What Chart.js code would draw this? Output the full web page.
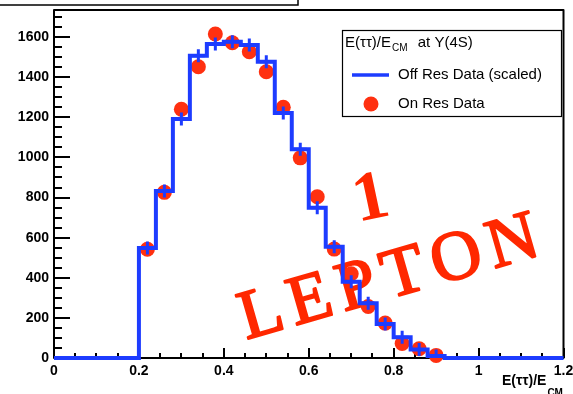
<!DOCTYPE html>
<html>
<head>
<meta charset="utf-8">
<script src="https://cdn.jsdelivr.net/npm/chart.js@4/dist/chart.umd.min.js"></script>
<style>
  html, body { margin: 0; padding: 0; background: #ffffff; overflow: hidden; }
  #c { display: block; }
</style>
</head>
<body>
<canvas id="c" width="573" height="394"></canvas>
<script>
// Bin edges of E(tautau)/E_CM histogram
const binEdges = [0.20, 0.24, 0.28, 0.32, 0.36, 0.40, 0.44, 0.48, 0.52, 0.56,
                  0.60, 0.64, 0.68, 0.72, 0.76, 0.80, 0.84, 0.88, 0.92];
// Off-resonance data, scaled (one value per bin)
const offResScaled = [548, 832, 1191, 1507, 1565, 1577, 1560, 1477, 1221, 1041,
                      749, 555, 380, 273, 170, 103, 43, 10];
// On-resonance data (one value per bin)
const onResData = [542, 826, 1240, 1452, 1615, 1572, 1527, 1427, 1250, 998,
                   804, 543, 420, 257, 174, 72, 46, 13];

const xTickValues = [0, 0.2, 0.4, 0.6, 0.8, 1, 1.2];
const xTickLabels = ['0', '0.2', '0.4', '0.6', '0.8', '1', '1.2'];
const yTickValues = [0, 200, 400, 600, 800, 1000, 1200, 1400, 1600];
const yTickLabels = ['0', '200', '400', '600', '800', '1000', '1200', '1400', '1600'];

const X_MIN = 0, X_MAX = 1.2, Y_MIN = 0, Y_MAX = 1735;

const BLUE = '#1d3cff';
const RED = '#ff3010';
const STAMP_RED = '#ff2800';
const SANS = '"Liberation Sans", Arial, Helvetica, sans-serif';
const SERIF = '"Liberation Serif", "Times New Roman", serif';

// Bin centres and step outline built from the edges
const binCenters = offResScaled.map((_, i) => (binEdges[i] + binEdges[i + 1]) / 2);
const stepPoints = [{ x: X_MIN, y: 0 }]
  .concat(offResScaled.map((v, i) => ({ x: binEdges[i], y: v })))
  .concat([{ x: binEdges[binEdges.length - 1], y: 0 }, { x: X_MAX, y: 0 }]);

// Frame, inward ROOT-style ticks and the "1 LEPTON" stamp (under the data)
const underlay = {
  id: 'underlay',
  beforeDatasetsDraw(chart) {
    const { ctx, chartArea: a, scales } = chart;
    const xs = scales.x, ys = scales.y;
    ctx.save();

    // stamp text
    ctx.fillStyle = STAMP_RED;
    ctx.strokeStyle = STAMP_RED;
    ctx.lineWidth = 2;
    ctx.lineJoin = 'round';
    ctx.font = '70px ' + SERIF;
    ctx.textBaseline = 'alphabetic';
    ctx.textAlign = 'left';
    const word = 'LEPTON';
    const gap = 8;
    const widths = [...word].map(ch => ctx.measureText(ch).width);
    const total = widths.reduce((s, w) => s + w, 0) + gap * (word.length - 1);
    ctx.save();
    ctx.translate(388, 275);
    ctx.rotate(-16 * Math.PI / 180);
    let px = -total / 2;
    [...word].forEach((ch, i) => {
      ctx.fillText(ch, px, 23);
      ctx.strokeText(ch, px, 23);
      px += widths[i] + gap;
    });
    ctx.restore();

    ctx.save();
    ctx.translate(370, 195);
    ctx.rotate(-12 * Math.PI / 180);
    ctx.textAlign = 'center';
    ctx.font = 'bold 70px ' + SERIF;
    ctx.fillText('1', 0, 24);
    ctx.restore();

    // frame
    ctx.strokeStyle = '#000';
    ctx.lineWidth = 2;
    ctx.strokeRect(a.left, a.top, a.right - a.left, a.bottom - a.top);

    // y ticks
    ctx.lineWidth = 2;
    ctx.beginPath();
    for (let v = Y_MIN; v <= Y_MAX; v += 50) {
      const y = Math.round(ys.getPixelForValue(v));
      const len = (v % 200 === 0) ? 16 : 8;
      ctx.moveTo(a.left, y);
      ctx.lineTo(a.left + len, y);
    }
    // x ticks
    for (let k = 0; k <= 24; k++) {
      const v = k * 0.05;
      const x = Math.round(xs.getPixelForValue(v));
      const len = (k % 4 === 0) ? 10 : 5;
      ctx.moveTo(x, a.bottom);
      ctx.lineTo(x, a.bottom - len);
    }
    ctx.stroke();
    ctx.restore();
  },
  afterDatasetsDraw(chart) {
    const { ctx } = chart;
    ctx.save();

    // title box at the top left
    ctx.strokeStyle = '#000';
    ctx.lineWidth = 1.5;
    ctx.fillStyle = '#fff';
    ctx.fillRect(-5, -30, 303, 35);
    ctx.strokeRect(-5, -30, 303, 35);

    // legend box
    ctx.fillStyle = '#fff';
    ctx.fillRect(342.5, 30.5, 219, 86);
    ctx.lineWidth = 1.2;
    ctx.strokeRect(342.5, 30.5, 219, 86);

    ctx.fillStyle = '#000';
    ctx.textBaseline = 'alphabetic';
    ctx.textAlign = 'left';
    let x = 345;
    ctx.font = '15px ' + SANS;
    ctx.fillText('E(ττ)/E', x, 47);
    x += ctx.measureText('E(ττ)/E').width;
    ctx.font = '10px ' + SANS;
    ctx.fillText('CM', x + 1, 51);
    x += ctx.measureText('CM').width + 1;
    ctx.font = '15px ' + SANS;
    ctx.fillText(' at Υ(4S)', x + 6, 47);

    ctx.strokeStyle = BLUE;
    ctx.lineWidth = 3.5;
    ctx.beginPath();
    ctx.moveTo(352, 75);
    ctx.lineTo(389, 75);
    ctx.stroke();
    ctx.fillStyle = RED;
    ctx.beginPath();
    ctx.arc(371, 104, 7.5, 0, Math.PI * 2);
    ctx.fill();

    ctx.fillStyle = '#000';
    ctx.font = '15px ' + SANS;
    ctx.textBaseline = 'middle';
    ctx.fillText('Off Res Data (scaled)', 398, 75);
    ctx.fillText('On Res Data', 398, 104);

    // x axis title
    ctx.textBaseline = 'alphabetic';
    ctx.font = 'bold 14px ' + SANS;
    ctx.fillText('E(ττ)/E', 502, 385);
    const w = ctx.measureText('E(ττ)/E').width;
    ctx.font = 'bold 10px ' + SANS;
    ctx.fillText('CM', 503 + w, 396);
    ctx.restore();
  }
};

new Chart(document.getElementById('c'), {
  type: 'line',
  data: {
    datasets: [
      {
        label: 'Off Res Data (scaled)',
        data: stepPoints,
        borderColor: BLUE,
        borderWidth: 4,
        stepped: 'before',
        pointRadius: 0,
        fill: false,
        clip: 6
      },
      {
        type: 'scatter',
        label: 'Off Res errors',
        data: offResScaled.map((v, i) => ({ x: binCenters[i], y: v })),
        pointStyle: 'cross',
        pointRadius: 6.5,
        borderColor: BLUE,
        borderWidth: 3,
        showLine: false
      },
      {
        type: 'scatter',
        label: 'On Res Data',
        data: onResData.map((v, i) => ({ x: binCenters[i], y: v })),
        pointStyle: 'circle',
        pointRadius: 7.5,
        backgroundColor: RED,
        borderWidth: 0,
        showLine: false,
        clip: 10
      }
    ]
  },
  options: {
    responsive: false,
    animation: false,
    devicePixelRatio: 1,
    layout: { padding: { top: 10, right: 5, left: 0, bottom: 0 } },
    plugins: { legend: { display: false }, tooltip: { enabled: false } },
    scales: {
      x: {
        type: 'linear',
        min: X_MIN, max: X_MAX,
        afterBuildTicks: s => { s.ticks = xTickValues.map(v => ({ value: v })); },
        afterFit: s => { s.height = 36; s.paddingLeft = 0; s.paddingRight = 0; },
        grid: { display: false, drawTicks: false },
        border: { display: false },
        ticks: {
          autoSkip: false, maxRotation: 0, padding: 5, color: '#000',
          font: { family: SANS, size: 14, weight: 'bold' },
          callback: (v, i) => xTickLabels[i]
        }
      },
      y: {
        type: 'linear',
        min: Y_MIN, max: Y_MAX,
        afterBuildTicks: s => { s.ticks = yTickValues.map(v => ({ value: v })); },
        afterFit: s => { s.width = 54; s.paddingTop = 0; s.paddingBottom = 0; },
        grid: { display: false, drawTicks: false },
        border: { display: false },
        ticks: {
          autoSkip: false, padding: 5, color: '#000',
          font: { family: SANS, size: 14, weight: 'bold' },
          callback: (v, i) => yTickLabels[i]
        }
      }
    }
  },
  plugins: [underlay]
});
</script>
</body>
</html>
